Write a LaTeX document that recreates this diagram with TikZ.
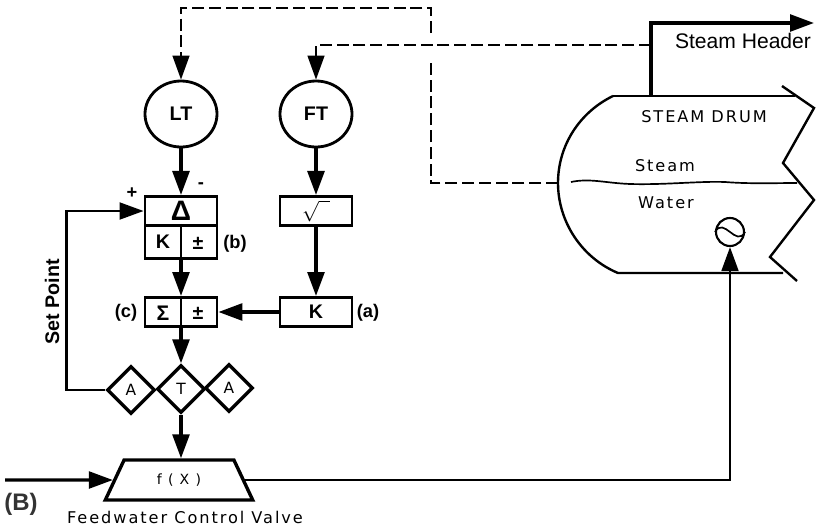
\documentclass[tikz,border=0pt]{standalone}
\usepackage{amsmath,amssymb}
\usepackage{fontspec}
\setmainfont{Liberation Sans}
\newfontfamily\plantfont[LetterSpace=12]{DejaVu Sans}
\usetikzlibrary{arrows.meta,shapes.geometric}
\tikzset{
	blockbox/.style={draw, line width=2pt, minimum width=18mm, minimum height=7.3mm, inner sep=0pt},
	transmitter/.style={draw, ellipse, line width=2pt, minimum width=18mm, minimum height=16.5mm, inner sep=0pt, font=\fontsize{14}{14}\selectfont\bfseries},
	relay/.style={draw, diamond, line width=2.4pt, minimum width=12mm, minimum height=12mm, inner sep=0pt, font=\fontsize{11}{11}\selectfont\plantfont},
	boldlabel/.style={font=\fontsize{13}{13}\selectfont\bfseries},
	plantlabel/.style={font=\fontsize{11.5}{11.5}\selectfont\plantfont},
	flow/.style={line width=2.4pt, -{Triangle[length=6mm,width=4.2mm]}},
	thinflow/.style={line width=1.8pt, -{Triangle[length=6mm,width=4.2mm]}},
	signal/.style={line width=1.4pt, dash pattern=on 3mm off 1.2mm},
	wall/.style={line width=1.7pt},
}
\begin{document}
\begin{tikzpicture}[x=0.25mm,y=-0.25mm]
	\useasboundingbox (0,0) rectangle (819,526);
	% transmitters and control blocks
	\node[transmitter] (lt) at (181,114) {LT};
	\node[transmitter] (ft) at (316,114) {FT};
	\node[blockbox, font=\fontsize{20}{20}\selectfont\bfseries] (delta) at (181,211) {Δ};
	\node[blockbox, minimum height=8.3mm] (gain) at (181,242) {};
	\node[blockbox, font=\fontsize{14}{14}\selectfont] (root) at (316,211) {$\sqrt{\ \ }$};
	\node[blockbox] (kgain) at (316,312) {\fontsize{14}{14}\selectfont\bfseries K};
	\node[blockbox] (sum) at (181,312) {};
	\draw[line width=1.5pt] (gain.north) -- (gain.south);
	\draw[line width=1.5pt] (sum.north) -- (sum.south);
	\node[boldlabel] (gaink) at (163,242) {\fontsize{14}{14}\selectfont K};
	\node[boldlabel] (gainpm) at (198,243) {\fontsize{14}{14}\selectfont ±};
	\node[boldlabel] (sumsig) at (163,313) {\fontsize{15}{15}\selectfont Σ};
	\node[boldlabel] (sumpm) at (198,313) {\fontsize{14}{14}\selectfont ±};
	\foreach \lab/\x/\y in {(b)/235/244, (a)/368/313, (c)/126/313, +/132/193, -/201/186} {\node[boldlabel] at (\x,\y) {\lab};}
	% relays and valve
	\node[relay] (relayt) at (181,389) {T};
	\node[relay] (relayl) at (131,390) {A};
	\node[relay] (relayr) at (229,388) {A};
	\node[draw, trapezium, trapezium stretches=true, trapezium left angle=59, trapezium right angle=59, line width=2.4pt, minimum width=37mm, minimum height=10mm, inner sep=0pt, font=\fontsize{10}{10}\selectfont\plantfont] (valve) at (179,480) {f ( X )};
	\node[plantlabel] (valvelabel) at (185,517) {Feedwater Control Valve};
	\node[font=\fontsize{17}{17}\selectfont\bfseries, text=black!80] (panel) at (21,504) {(B)};
	\node[boldlabel, rotate=90, font=\fontsize{14}{14}\selectfont\bfseries] (setpoint) at (52,302) {Set Point};
	% drum
	\coordinate (tap) at (558,183);
	\coordinate (pipe) at (651,96);
	\draw[wall] (613,96) -- (795,96);
	\draw[wall] (782,86) -- (814,108) -- (783,163) -- (814,200) -- (770,257) -- (797,281);
	\draw[wall] (783,273) -- (618,273) .. controls (582,258) and (558,222) .. (tap) .. controls (558,145) and (580,112) .. (613,96);
	\draw[line width=1.2pt] (571,182) .. controls (590,178) and (605,183) .. (630,184) .. controls (665,185) and (700,181) .. (725,182) .. controls (750,184) and (775,183) .. (797,183);
	\node[plantlabel] (drumlabel) at (704,117) {STEAM DRUM};
	\node[plantlabel] (steamlabel) at (665,166) {Steam};
	\node[plantlabel] (waterlabel) at (666,203) {Water};
	\node[draw, circle, line width=1.5pt, minimum size=7mm, inner sep=0pt] (coil) at (730,232) {};
	\draw[line width=1.2pt] (coil.west) .. controls (724,216) and (736,248) .. (coil.east);
	\node[font=\fontsize{15}{15}\selectfont] (header) at (743,41) {Steam Header};
	\coordinate (headerend) at (814,23);
	\coordinate (feedin) at (5,480);
	% process lines
	\draw[flow] (pipe) |- (headerend);
	\draw[thinflow, line width=2.2pt] (feedin) -- (valve.west);
	\draw[thinflow] (valve.east) -| (coil.south);
	% control lines
	\draw[flow] (lt) -- (delta);
	\draw[flow] (ft) -- (root);
	\draw[flow] (root) -- (kgain);
	\draw[flow] (gain) -- (sum);
	\draw[flow] (kgain) -- (sum);
	\draw[flow] (sum) -- (relayt);
	\draw[flow] (relayt) -- (relayt |- valve.north);
	\draw[thinflow] (relayl.west) -- ++(-39,0) |- (delta.west);
	% dashed signal lines
	\coordinate (gaplow) at (431,62);
	\coordinate (gaphigh) at (431,33);
	\coordinate (drumline) at (651,45);
	\draw[signal] (tap) -| (gaplow);
	\draw[signal, -{Triangle[length=6mm,width=4.2mm]}] (gaphigh) -- (431,8) -| (lt);
	\draw[signal, -{Triangle[length=6mm,width=4.2mm]}] (drumline) -| (ft);
\end{tikzpicture}
\end{document}
